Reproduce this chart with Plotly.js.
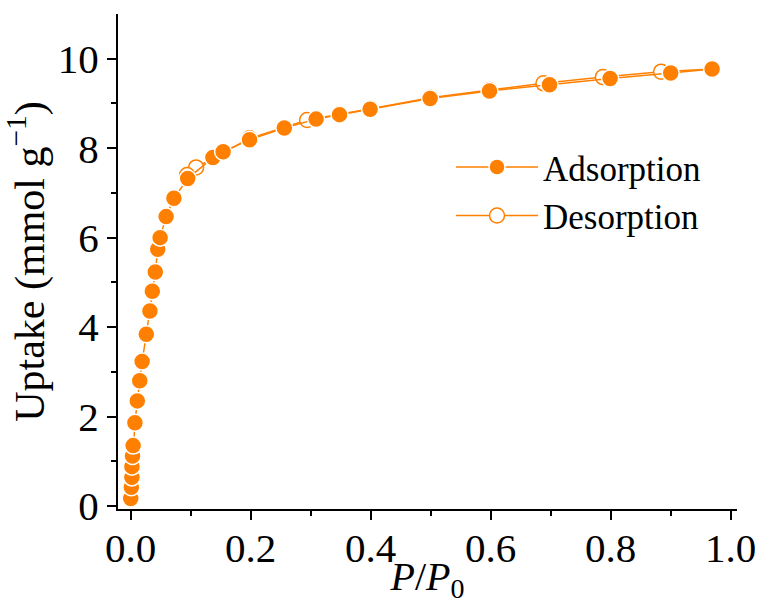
<!DOCTYPE html>
<html><head><meta charset="utf-8">
<script src="https://cdn.plot.ly/plotly-3.0.1.min.js"></script>
<style>html,body{margin:0;padding:0;background:#fff;} #chart{width:762px;height:604px;}</style>
</head><body><div id="chart"></div>
<script>
// Adsorption branch (P/P0, uptake mmol/g)
const adsP = [0.000,0.001,0.002,0.002,0.003,0.004,0.007,0.011,0.015,0.019,0.026,0.032,0.036,0.041,0.045,0.049,0.059,0.072,0.095,0.137,0.154,0.198,0.256,0.309,0.348,0.399,0.499,0.598,0.698,0.799,0.900,0.969];
const adsUptake = [0.17,0.42,0.64,0.88,1.12,1.35,1.86,2.35,2.80,3.23,3.84,4.36,4.80,5.23,5.74,6.00,6.47,6.88,7.32,7.79,7.92,8.19,8.45,8.65,8.75,8.87,9.11,9.28,9.42,9.56,9.68,9.77];
// Desorption branch
const desP = [0.969,0.884,0.787,0.688,0.598,0.499,0.400,0.294,0.198,0.109,0.094];
const desUptake = [9.77,9.71,9.59,9.45,9.30,9.13,8.88,8.63,8.22,7.57,7.40];

const seriesNames = ['Adsorption','Desorption'];
const xTickVals = [0,0.2,0.4,0.6,0.8,1.0];
const xTickText = ['0.0','0.2','0.4','0.6','0.8','1.0'];
const xMinorVals = [0.1,0.3,0.5,0.7,0.9];
const yTickVals = [0,2,4,6,8,10];
const yTickText = ['0','2','4','6','8','10'];
const yMinorVals = [1,3,5,7,9];

const orange = '#FF8000';
const serif = 'Liberation Serif, Times New Roman, serif';

const traces = [
  {
    x: desP, y: desUptake, name: seriesNames[1], type: 'scatter', mode: 'lines+markers',
    line: {color: orange, width: 1.5},
    marker: {symbol: 'circle', size: 15, color: '#ffffff', line: {color: orange, width: 1.5}},
    legendrank: 2
  },
  {
    x: adsP, y: adsUptake, name: seriesNames[0], type: 'scatter', mode: 'lines+markers',
    line: {color: orange, width: 1.5},
    marker: {symbol: 'circle', size: 17, color: orange, line: {color: '#ffffff', width: 1.5}},
    legendrank: 1
  }
];

const axisCommon = {
  showgrid: false, zeroline: false, showline: true, linecolor: '#000', linewidth: 2,
  ticks: 'outside', ticklen: 9, tickwidth: 2, tickcolor: '#000',
  tickfont: {family: serif, size: 41, color: '#000'},
  automargin: false
};

const layout = {
  width: 762, height: 604,
  margin: {l: 118, r: 25, t: 14, b: 95},
  paper_bgcolor: '#fff', plot_bgcolor: '#fff',
  xaxis: Object.assign({}, axisCommon, {
    range: [-0.0212, 1.0105],
    tickmode: 'array', tickvals: xTickVals, ticktext: xTickText,
    ticklabelstandoff: -7,
    minor: {tickmode: 'array', tickvals: xMinorVals, ticks: 'outside', ticklen: 5, tickwidth: 2, tickcolor: '#000'},
    title: {text: '<i>P</i>/<i>P</i><sub>0</sub>', font: {family: serif, size: 40, color: '#000'}}
  }),
  yaxis: Object.assign({}, axisCommon, {
    range: [-0.067, 11.0],
    tickmode: 'array', tickvals: yTickVals, ticktext: yTickText,
    minor: {tickmode: 'array', tickvals: yMinorVals, ticks: 'outside', ticklen: 5, tickwidth: 2, tickcolor: '#000'},
    title: {text: 'Uptake (mmol g<sup>\u22121</sup>)', font: {family: serif, size: 42, color: '#000'}}
  }),
  legend: {
    x: 0.538, y: 0.75, xanchor: 'left', yanchor: 'top',
    bgcolor: 'rgba(0,0,0,0)', borderwidth: 0,
    font: {family: serif, size: 35, color: '#000'},
    itemwidth: 82
  },
  showlegend: true
};

Plotly.newPlot('chart', traces, layout, {staticPlot: true, displayModeBar: false});
</script>
</body></html>
